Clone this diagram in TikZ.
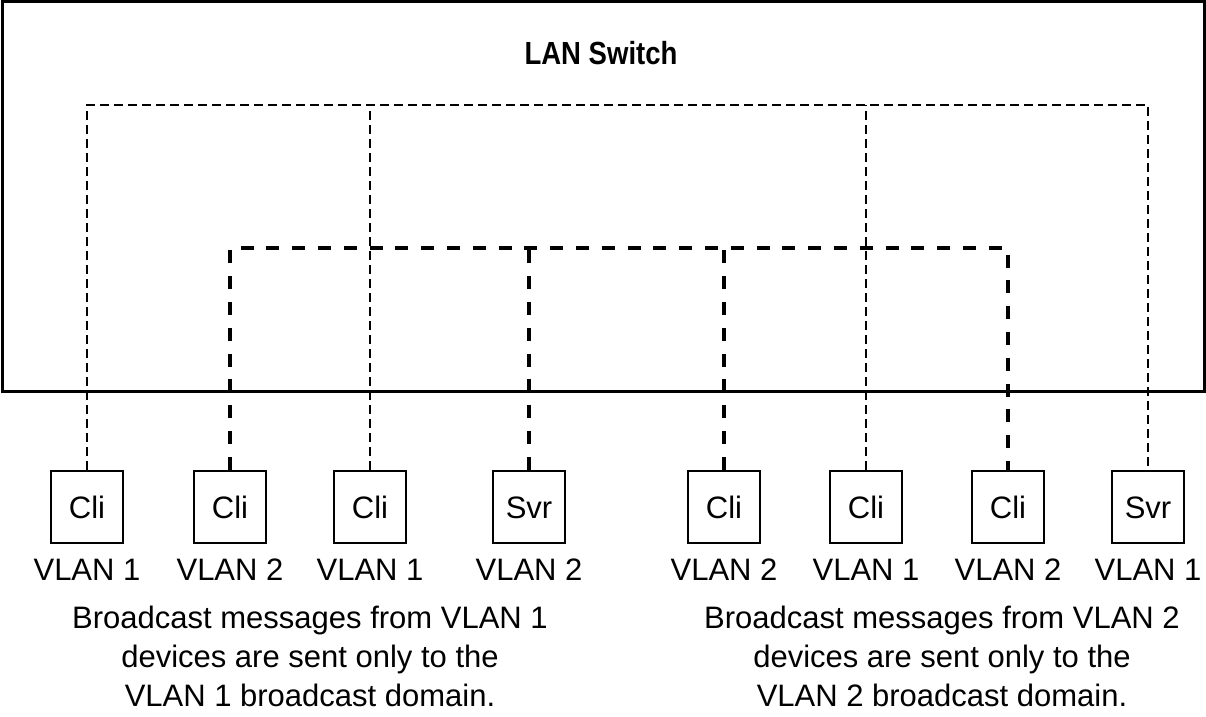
\documentclass[tikz,border=0pt]{standalone}
\usepackage{fontspec}
\setmainfont{Liberation Sans}
\newfontfamily\titlefont[FakeStretch=0.86]{Liberation Sans}
\usetikzlibrary{positioning}

\begin{document}
\begin{tikzpicture}[
    x=1pt,y=-1pt,
    node distance=4pt,
    switchbox/.style={draw,line width=3pt},
    device/.style={rectangle,draw,line width=2.6pt,minimum size=72pt,inner sep=0pt,
      text height=22pt,text depth=0pt,font=\fontsize{31}{36}\selectfont},
    vlanlabel/.style={inner sep=0pt,text height=22pt,text depth=0pt,
      font=\fontsize{31}{36}\selectfont},
    caption/.style={align=center,inner sep=0pt,font=\fontsize{31}{39}\selectfont},
    vlanone/.style={line width=2.4pt,dash pattern=on 9pt off 5pt},
    vlantwo/.style={line width=3.1pt,dash pattern=on 13pt off 12.8pt}
  ]
    \useasboundingbox (0,0) rectangle (1206,716);
    \draw[switchbox] (2,1) rectangle (1204,391);
    \node[font=\titlefont\bfseries\fontsize{32}{36}\selectfont] (title) at (601,53) {LAN Switch};

    % devices
    \node[device] (c1) at (87,507) {Cli};
    \node[device] (c2) at (230,507) {Cli};
    \node[device] (c3) at (370,507) {Cli};
    \node[device] (c4) at (529,507) {Svr};
    \node[device] (c5) at (724,507) {Cli};
    \node[device] (c6) at (866,507) {Cli};
    \node[device] (c7) at (1008,507) {Cli};
    \node[device] (c8) at (1148,507) {Svr};

    \node[vlanlabel,below=14pt of c1] (l1) {VLAN 1};
    \node[vlanlabel,below=14pt of c2] (l2) {VLAN 2};
    \node[vlanlabel,below=14pt of c3] (l3) {VLAN 1};
    \node[vlanlabel,below=14pt of c4] (l4) {VLAN 2};
    \node[vlanlabel,below=14pt of c5] (l5) {VLAN 2};
    \node[vlanlabel,below=14pt of c6] (l6) {VLAN 1};
    \node[vlanlabel,below=14pt of c7] (l7) {VLAN 2};
    \node[vlanlabel,below=14pt of c8] (l8) {VLAN 1};

    \node[caption] (capone) at (310,656) {Broadcast messages from VLAN 1\\devices are sent only to the\\VLAN 1 broadcast domain.};
    \node[caption] (captwo) at (942,656) {Broadcast messages from VLAN 2\\devices are sent only to the\\VLAN 2 broadcast domain.};

    % broadcast domains
    \coordinate (busone) at (0,105);
    \coordinate (bustwo) at (0,248);
    \draw[vlanone] (c1.north) |- (c8.north |- busone) -- (c8.north);
    \draw[vlanone] (c3.north) -- (c3.north |- busone);
    \draw[vlanone] (c6.north) -- (c6.north |- busone);
    \draw[vlantwo] (c2.north) |- (c7.north |- bustwo) -- (c7.north);
    \draw[vlantwo] (c4.north) -- (c4.north |- bustwo);
    \draw[vlantwo] (c5.north) -- (c5.north |- bustwo);
  \end{tikzpicture}
\end{document}
